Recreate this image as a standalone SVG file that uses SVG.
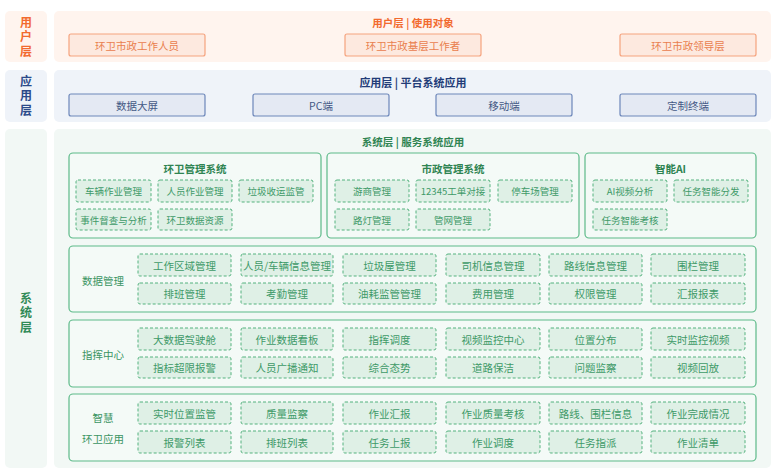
<svg xmlns="http://www.w3.org/2000/svg" width="778" height="476" viewBox="0 0 778 476">
<style>
text{font-family:"Noto Sans CJK SC","Noto Sans",sans-serif;text-anchor:middle;dominant-baseline:central}
.vert{writing-mode:vertical-rl;letter-spacing:2.5px}
.u-bg{fill:#FFF4EE}
.u-side{font-size:12px;font-weight:700;fill:#F26A2E}
.u-title{font-size:10.5px;font-weight:700;fill:#F26A2E}
.u-box{fill:#FDE9DF;stroke:#F5A37E;stroke-width:1.2}
.u-txt{font-size:10.5px;fill:#E9804E}
.a-bg{fill:#EFF3F9}
.a-side{font-size:12px;font-weight:700;fill:#2B4A8A}
.a-title{font-size:11px;font-weight:700;fill:#223C78}
.a-box{fill:#E4E9F3;stroke:#6D87BA;stroke-width:1.2}
.a-txt{font-size:10.5px;fill:#445985}
.s-bg{fill:#F2F8F5}
.s-side{font-size:12px;font-weight:700;fill:#2F8A56}
.s-title{font-size:10.5px;font-weight:700;fill:#2F8452}
.grp{fill:#F4FAF7;stroke:#5DBA89;stroke-width:1.2}
.g-title{font-size:10.5px;font-weight:700;fill:#2F8452}
.g-lbl{font-size:10.5px;fill:#3B9563}
.d-box{fill:#DFF0E6;stroke:#55B27F;stroke-width:1;stroke-dasharray:3 2}
.d-txt{font-size:9.5px;fill:#3E9A68}
.d-txt2{font-size:10.5px;fill:#3E9A68}
</style>

<!-- User layer -->
<g id="user-layer">
  <rect class="u-bg" x="5" y="11" width="42" height="51" rx="5"/>
  <text class="u-side vert" x="26" y="38">用户层</text>
  <rect class="u-bg" x="54" y="11" width="717" height="51" rx="5"/>
  <text class="u-title" x="413" y="22">用户层 | 使用对象</text>
  <g id="u1"><rect class="u-box" x="69" y="34" width="136" height="22" rx="2"/><text class="u-txt" x="137" y="45">环卫市政工作人员</text></g>
  <g id="u2"><rect class="u-box" x="345" y="34" width="136" height="22" rx="2"/><text class="u-txt" x="413" y="45">环卫市政基层工作者</text></g>
  <g id="u3"><rect class="u-box" x="620" y="34" width="136" height="22" rx="2"/><text class="u-txt" x="688" y="45">环卫市政领导层</text></g>
</g>

<!-- App layer -->
<g id="app-layer">
  <rect class="a-bg" x="5" y="70" width="42" height="52" rx="5"/>
  <text class="a-side vert" x="26" y="97">应用层</text>
  <rect class="a-bg" x="54" y="70" width="717" height="52" rx="5"/>
  <text class="a-title" x="413" y="82">应用层 | 平台系统应用</text>
  <g id="a1"><rect class="a-box" x="69" y="94" width="136" height="22" rx="2"/><text class="a-txt" x="137" y="105">数据大屏</text></g>
  <g id="a2"><rect class="a-box" x="253" y="94" width="136" height="22" rx="2"/><text class="a-txt" x="321" y="105">PC端</text></g>
  <g id="a3"><rect class="a-box" x="436" y="94" width="136" height="22" rx="2"/><text class="a-txt" x="504" y="105">移动端</text></g>
  <g id="a4"><rect class="a-box" x="620" y="94" width="136" height="22" rx="2"/><text class="a-txt" x="688" y="105">定制终端</text></g>
</g>

<!-- System layer -->
<g id="system-layer">
  <rect class="s-bg" x="5" y="129" width="42" height="339" rx="5"/>
  <text class="s-side vert" x="26" y="314">系统层</text>
  <rect class="s-bg" x="54" y="129" width="717" height="339" rx="5"/>
  <text class="s-title" x="413" y="141">系统层 | 服务系统应用</text>
</g>

<g id="hw-system">
  <rect class="grp" x="69" y="153" width="252" height="85" rx="4"/>
  <text class="g-title" x="195" y="168">环卫管理系统</text>
  <rect class="d-box" x="76" y="180" width="75" height="22" rx="2"/><text class="d-txt" x="113.5" y="191">车辆作业管理</text>
  <rect class="d-box" x="158" y="180" width="74" height="22" rx="2"/><text class="d-txt" x="195" y="191">人员作业管理</text>
  <rect class="d-box" x="239" y="180" width="74" height="22" rx="2"/><text class="d-txt" x="276" y="191">垃圾收运监管</text>
  <rect class="d-box" x="76" y="209" width="75" height="21" rx="2"/><text class="d-txt" x="113.5" y="219.5">事件督查与分析</text>
  <rect class="d-box" x="158" y="209" width="74" height="21" rx="2"/><text class="d-txt" x="195" y="219.5">环卫数据资源</text>
</g>

<g id="sz-system">
  <rect class="grp" x="327" y="153" width="252" height="85" rx="4"/>
  <text class="g-title" x="453" y="168">市政管理系统</text>
  <rect class="d-box" x="335" y="180" width="74" height="22" rx="2"/><text class="d-txt" x="372" y="191">游商管理</text>
  <rect class="d-box" x="416" y="180" width="74" height="22" rx="2"/><text class="d-txt" x="453" y="191">12345工单对接</text>
  <rect class="d-box" x="498" y="180" width="74" height="22" rx="2"/><text class="d-txt" x="535" y="191">停车场管理</text>
  <rect class="d-box" x="335" y="209" width="74" height="21" rx="2"/><text class="d-txt" x="372" y="219.5">路灯管理</text>
  <rect class="d-box" x="416" y="209" width="74" height="21" rx="2"/><text class="d-txt" x="453" y="219.5">管网管理</text>
</g>

<g id="ai-system">
  <rect class="grp" x="585" y="153" width="171" height="85" rx="4"/>
  <text class="g-title" x="670.5" y="168">智能AI</text>
  <rect class="d-box" x="593" y="180" width="74" height="22" rx="2"/><text class="d-txt" x="630" y="191">AI视频分析</text>
  <rect class="d-box" x="674" y="180" width="74" height="22" rx="2"/><text class="d-txt" x="711" y="191">任务智能分发</text>
  <rect class="d-box" x="593" y="209" width="74" height="21" rx="2"/><text class="d-txt" x="630" y="219.5">任务智能考核</text>
</g>

<g id="data-mgmt">
  <rect class="grp" x="69" y="246" width="687" height="66" rx="4"/>
  <text class="g-lbl" x="103" y="280">数据管理</text>
  <rect class="d-box" x="138" y="254" width="93" height="22" rx="2"/><text class="d-txt2" x="184.5" y="265">工作区域管理</text>
  <rect class="d-box" x="241" y="254" width="92" height="22" rx="2"/><text class="d-txt2" x="287" y="265">人员/车辆信息管理</text>
  <rect class="d-box" x="343" y="254" width="93" height="22" rx="2"/><text class="d-txt2" x="389.5" y="265">垃圾屋管理</text>
  <rect class="d-box" x="446" y="254" width="94" height="22" rx="2"/><text class="d-txt2" x="493" y="265">司机信息管理</text>
  <rect class="d-box" x="549" y="254" width="93" height="22" rx="2"/><text class="d-txt2" x="595.5" y="265">路线信息管理</text>
  <rect class="d-box" x="651" y="254" width="94" height="22" rx="2"/><text class="d-txt2" x="698" y="265">围栏管理</text>
  <rect class="d-box" x="138" y="283" width="93" height="21" rx="2"/><text class="d-txt2" x="184.5" y="293.5">排班管理</text>
  <rect class="d-box" x="241" y="283" width="92" height="21" rx="2"/><text class="d-txt2" x="287" y="293.5">考勤管理</text>
  <rect class="d-box" x="343" y="283" width="93" height="21" rx="2"/><text class="d-txt2" x="389.5" y="293.5">油耗监管管理</text>
  <rect class="d-box" x="446" y="283" width="94" height="21" rx="2"/><text class="d-txt2" x="493" y="293.5">费用管理</text>
  <rect class="d-box" x="549" y="283" width="93" height="21" rx="2"/><text class="d-txt2" x="595.5" y="293.5">权限管理</text>
  <rect class="d-box" x="651" y="283" width="94" height="21" rx="2"/><text class="d-txt2" x="698" y="293.5">汇报报表</text>
</g>

<g id="command-center">
  <rect class="grp" x="69" y="320" width="687" height="67" rx="4"/>
  <text class="g-lbl" x="103" y="354">指挥中心</text>
  <rect class="d-box" x="138" y="328" width="93" height="22" rx="2"/><text class="d-txt2" x="184.5" y="339">大数据驾驶舱</text>
  <rect class="d-box" x="241" y="328" width="92" height="22" rx="2"/><text class="d-txt2" x="287" y="339">作业数据看板</text>
  <rect class="d-box" x="343" y="328" width="93" height="22" rx="2"/><text class="d-txt2" x="389.5" y="339">指挥调度</text>
  <rect class="d-box" x="446" y="328" width="94" height="22" rx="2"/><text class="d-txt2" x="493" y="339">视频监控中心</text>
  <rect class="d-box" x="549" y="328" width="93" height="22" rx="2"/><text class="d-txt2" x="595.5" y="339">位置分布</text>
  <rect class="d-box" x="651" y="328" width="94" height="22" rx="2"/><text class="d-txt2" x="698" y="339">实时监控视频</text>
  <rect class="d-box" x="138" y="357" width="93" height="21" rx="2"/><text class="d-txt2" x="184.5" y="367.5">指标超限报警</text>
  <rect class="d-box" x="241" y="357" width="92" height="21" rx="2"/><text class="d-txt2" x="287" y="367.5">人员广播通知</text>
  <rect class="d-box" x="343" y="357" width="93" height="21" rx="2"/><text class="d-txt2" x="389.5" y="367.5">综合态势</text>
  <rect class="d-box" x="446" y="357" width="94" height="21" rx="2"/><text class="d-txt2" x="493" y="367.5">道路保洁</text>
  <rect class="d-box" x="549" y="357" width="93" height="21" rx="2"/><text class="d-txt2" x="595.5" y="367.5">问题监察</text>
  <rect class="d-box" x="651" y="357" width="94" height="21" rx="2"/><text class="d-txt2" x="698" y="367.5">视频回放</text>
</g>

<g id="smart-sanitation">
  <rect class="grp" x="69" y="394" width="687" height="67" rx="4"/>
  <text class="g-lbl" x="103" y="417">智慧</text>
  <text class="g-lbl" x="103" y="438">环卫应用</text>
  <rect class="d-box" x="138" y="402" width="93" height="22" rx="2"/><text class="d-txt2" x="184.5" y="413">实时位置监管</text>
  <rect class="d-box" x="241" y="402" width="92" height="22" rx="2"/><text class="d-txt2" x="287" y="413">质量监察</text>
  <rect class="d-box" x="343" y="402" width="93" height="22" rx="2"/><text class="d-txt2" x="389.5" y="413">作业汇报</text>
  <rect class="d-box" x="446" y="402" width="94" height="22" rx="2"/><text class="d-txt2" x="493" y="413">作业质量考核</text>
  <rect class="d-box" x="549" y="402" width="93" height="22" rx="2"/><text class="d-txt2" x="595.5" y="413">路线、围栏信息</text>
  <rect class="d-box" x="651" y="402" width="94" height="22" rx="2"/><text class="d-txt2" x="698" y="413">作业完成情况</text>
  <rect class="d-box" x="138" y="431" width="93" height="22" rx="2"/><text class="d-txt2" x="184.5" y="442">报警列表</text>
  <rect class="d-box" x="241" y="431" width="92" height="22" rx="2"/><text class="d-txt2" x="287" y="442">排班列表</text>
  <rect class="d-box" x="343" y="431" width="93" height="22" rx="2"/><text class="d-txt2" x="389.5" y="442">任务上报</text>
  <rect class="d-box" x="446" y="431" width="94" height="22" rx="2"/><text class="d-txt2" x="493" y="442">作业调度</text>
  <rect class="d-box" x="549" y="431" width="93" height="22" rx="2"/><text class="d-txt2" x="595.5" y="442">任务指派</text>
  <rect class="d-box" x="651" y="431" width="94" height="22" rx="2"/><text class="d-txt2" x="698" y="442">作业清单</text>
</g>

<g id="connectors"></g>
</svg>
